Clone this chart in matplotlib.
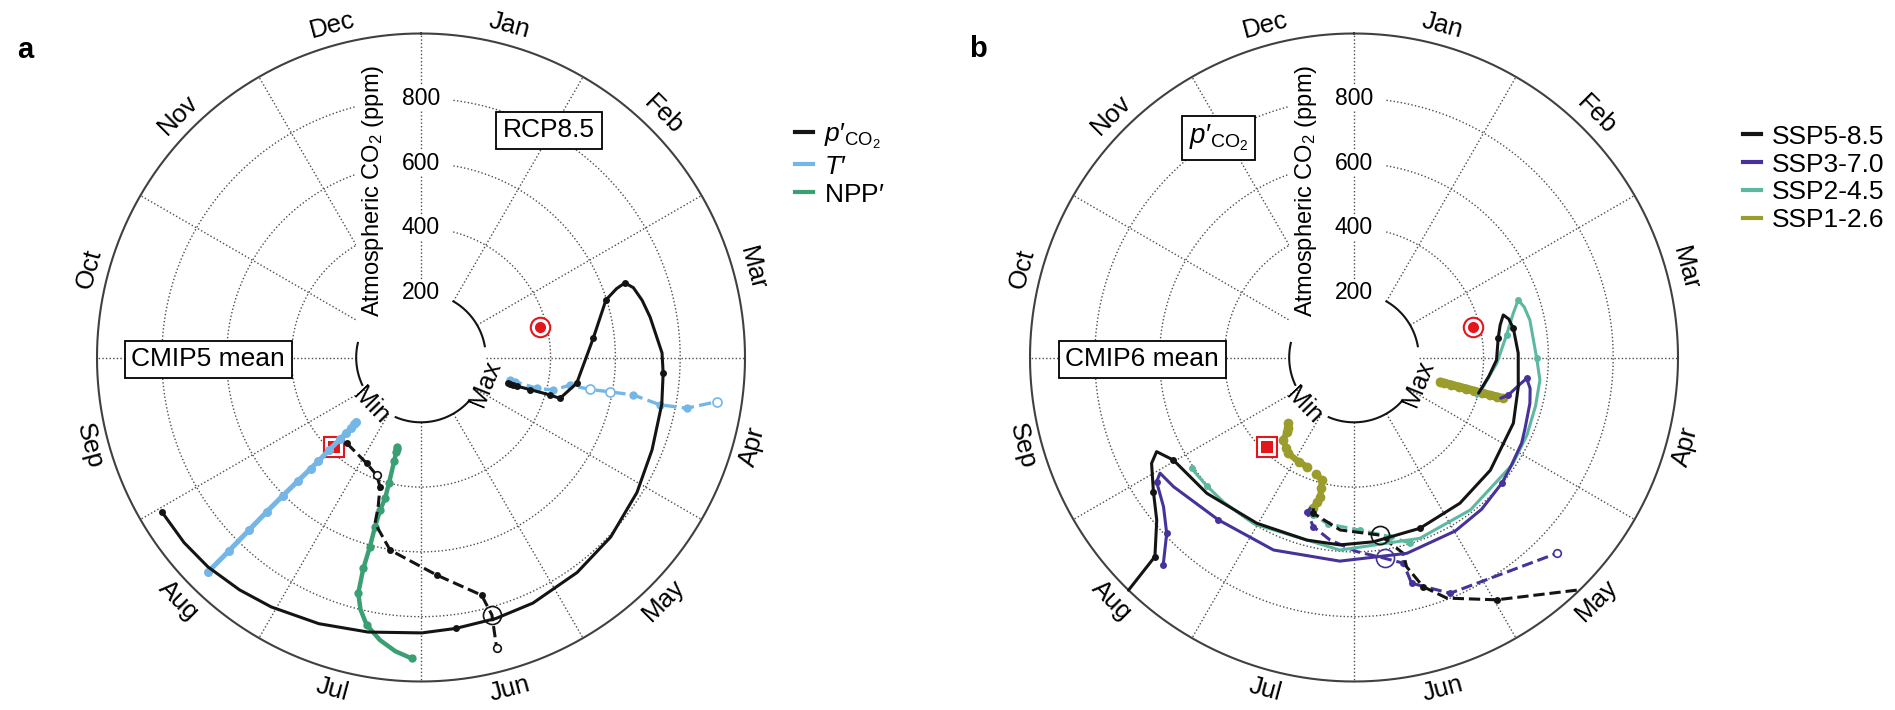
import numpy as np
import matplotlib
matplotlib.use('Agg')
import matplotlib.pyplot as plt
from matplotlib.patches import Rectangle
from matplotlib.lines import Line2D

plt.rcParams['font.family'] = ['Liberation Sans', 'DejaVu Sans']
plt.rcParams['mathtext.fontset'] = 'custom'
plt.rcParams['mathtext.rm'] = 'Liberation Sans'
plt.rcParams['mathtext.it'] = 'Liberation Sans:italic'
plt.rcParams['mathtext.bf'] = 'Liberation Sans:bold'

# phase = timing of the seasonal extreme, degrees clockwise from 1 Jan
# ppm   = atmospheric CO2 at that time
months = ['Jan', 'Feb', 'Mar', 'Apr', 'May', 'Jun',
          'Jul', 'Aug', 'Sep', 'Oct', 'Nov', 'Dec']
r_ticks = [200, 400, 600, 800]
r_inner = 200
r_outer = 1000

# observed timing of seasonal max / min
obs_max_phase, obs_max_ppm = 75.5, 380
obs_min_phase, obs_min_ppm = 224.2, 384

# ---- a: CMIP5 mean, RCP8.5
a_pco2_max_phase = [106.5, 106.5, 106.5, 106.6, 106.4, 106.2, 106.4, 99.4, 87.4, 83.6, 72.7,
                    70.6, 69.9, 71.8, 75.5, 80.0, 88.9, 93.7, 101.0, 111.8, 122.0, 133.4, 144.0,
                    155.5, 164.0, 172.7, 179.8, 190.9, 201.0, 211.0, 218.0, 225.5, 232.0, 239.2]
a_pco2_max_ppm = [281, 288, 296, 310, 351, 415, 447, 487, 519, 535, 598,
                  640, 670, 690, 705, 718, 744, 749, 757, 768, 786, 806, 820,
                  833, 838, 843, 850, 863, 880, 898, 910, 922, 928, 931]
a_pco2_max_dots = [0, 1, 2, 3, 4, 5, 6, 7, 9, 10, 12, 17, 25, 33]

a_pco2_min_phase = [220.9, 207.2, 200.7, 197.6, 196.0, 195.5, 189.1, 175.9, 165.7, 164.6, 165.4]
a_pco2_min_ppm = [350, 367, 388, 418, 480, 531, 602, 673, 757, 824, 927]
a_pco2_min_dots = [0, 1, 3, 6, 7, 8]
a_pco2_min_open = [2, 10]
a_pco2_min_ring = [9]

a_temp_min_phase = [225.2, 225.1, 225.0, 224.9, 224.8, 224.8, 224.7, 224.8, 224.9, 225.0,
                    225.0, 224.9, 224.8, 224.8]
a_temp_min_ppm = [281, 290, 307, 330, 355, 401, 450, 484, 539, 604, 673, 751, 842, 931]

a_temp_max_phase = [104.2, 104.4, 104.9, 103.8, 100.5, 100.7, 100.3, 100.0, 101.2, 100.8, 98.5]
a_temp_max_ppm = [283, 300, 370, 420, 468, 531, 593, 665, 752, 835, 923]
a_temp_max_dots = [0, 1, 2, 3, 4, 7, 8, 9]
a_temp_max_open = [5, 6, 10]

a_npp_phase = [195.0, 194.8, 194.7, 194.5, 194.3, 194.3, 195.0, 195.2, 195.1, 195.3,
               194.9, 193.5, 191.5, 188.3, 185.0, 181.8]
a_npp_ppm = [286, 292, 300, 330, 400, 449, 487, 541, 605, 675, 753, 800, 842, 881, 910, 929]
a_npp_dots = [0, 1, 2, 3, 4, 5, 6, 7, 8, 9, 10, 12, 15]

# ---- b: CMIP6 mean, p'CO2 per scenario
b_585_max_phase = [106.0, 98.0, 91.0, 82.4, 77.5, 74.1, 76.0, 79.6, 88.5, 100.1, 112.4, 129.6,
                   144.0, 158.9, 174.0, 184.3, 194.5, 210.4, 227.3, 240.4, 244.5, 242.4, 236.2,
                   230.5, 225.0, 224.1]
b_585_max_ppm = [400, 420, 440, 449, 462, 479, 492, 500, 507, 515, 532, 546,
                 556, 565, 572, 580, 582, 593, 618, 641, 675, 705, 745, 789, 869, 1000]
b_585_max_dots = [3, 7, 13, 19, 22, 24]

b_370_max_phase = [105.5, 103.7, 99.0, 96.9, 100.0, 104.6, 112.8, 117.1, 125.2, 130.4, 140.0,
                   149.7, 164.9, 184.0, 202.7, 219.9, 234.4, 239.2, 237.8, 231.9, 226.8, 222.6]
b_370_max_ppm = [470, 490, 520, 537, 552, 561, 572, 581, 590, 599, 612,
                 620, 626, 630, 644, 653, 685, 697, 720, 747, 793, 870]
b_370_max_dots = [1, 3, 9, 15, 18, 20, 21]

b_245_max_phase = [107.7, 102.7, 92.3, 81.6, 74.5, 70.7, 73.5, 78.0, 90.3, 96.9, 105.0, 114.2,
                   124.0, 142.6, 160.0, 184.2, 210.9, 222.0, 228.9, 235.7]
b_245_max_ppm = [398, 409, 441, 476, 510, 537, 548, 555, 564, 578, 580, 585,
                 590, 592, 594, 596, 599, 601, 603, 607]
b_245_max_dots = [3, 5, 8, 18, 19]

b_126_max_phase = [105.7, 105.7, 105.6, 105.6, 105.5, 105.5, 105.4, 105.4, 105.3, 105.3]
b_126_max_ppm = [276, 290, 310, 335, 360, 385, 410, 435, 458, 478]

b_126_min_phase = [225.3, 223.5, 222.0, 220.6, 217.0, 214.4, 208.0, 203.4, 198.0, 194.8, 194.0,
                   193.7, 194.5, 195.1]
b_126_min_ppm = [287, 298, 310, 335, 350, 359, 364, 367, 378, 391, 415, 442, 462, 482]

b_245_min_phase = [195.1, 194.5, 189.0, 178.0, 168.6, 163.2]
b_245_min_ppm = [482, 502, 520, 533, 564, 599]
b_245_min_dots = [1, 2, 3, 4, 5]

b_370_min_phase = [196.0, 197.0, 193.5, 187.5, 179.2, 171.3, 166.5, 165.7, 157.8, 134.0]
b_370_min_ppm = [482, 498, 537, 568, 599, 627, 653, 719, 786, 870]
b_370_min_dots = [1, 2, 6, 7, 8]
b_370_min_open = [9]
b_370_min_ring = [5]

b_585_min_phase = [195.1, 194.6, 184.6, 171.7, 165.9, 165.9, 163.2, 158.9, 149.5, 135.8]
b_585_min_ppm = [482, 497, 534, 554, 623, 666, 739, 796, 868, 1000]
b_585_min_dots = [1, 6, 8]
b_585_min_ring = [3]

black = '#141414'
blue = '#74b6e6'
green = '#3aa074'
purple = '#46329a'
teal = '#5cb8a0'
olive = '#9a9c2c'
red = '#e3161e'

W, H = 1895, 710
px_per_ppm = 0.324
L = 1150


def xy(phase, ppm):
    t = np.deg2rad(np.asarray(phase, dtype=float))
    r = np.asarray(ppm, dtype=float)
    return r * np.sin(t), r * np.cos(t)


def trace(ax, phase, ppm, color, ls='-', lw=2.0, dots=None, open_=(), ring=(), ms=5, z=5):
    x, y = xy(phase, ppm)
    ax.plot(x, y, color=color, ls=ls, lw=lw, zorder=z, solid_capstyle='round',
            solid_joinstyle='round')
    if dots is None:
        dots = range(len(x))
    dots = list(dots)
    if dots:
        ax.plot(x[dots], y[dots], 'o', color=color, ms=ms, mew=0, zorder=z)
    if open_:
        ax.plot(x[list(open_)], y[list(open_)], 'o', ms=ms + 0.5, mfc='white', mec=color,
                mew=1.2, zorder=z + 0.1)
    if ring:
        ax.plot(x[list(ring)], y[list(ring)], 'o', ms=13, mfc='none', mec=color,
                mew=1.2, zorder=z + 0.1)


def base(ax):
    ax.set_xlim(-L, L)
    ax.set_ylim(-L, L)
    ax.axis('off')
    dot = dict(ls=(0, (1, 1.6)), lw=1.0, color='0.3')
    th = np.linspace(0, 360, 721)
    for r in r_ticks[1:]:
        x, y = xy(th, np.full_like(th, r))
        ax.plot(x, y, zorder=1, **dot)
    for k in range(12):
        x, y = xy([30 * k, 30 * k], [r_inner, r_outer])
        ax.plot(x, y, zorder=1.6 if k == 0 else 1, **dot)
    # keeps the grid away from the radial axis labels
    ax.add_patch(Rectangle((-200, 45), 300, 960, fc='white', ec='none', zorder=1.5))
    x, y = xy(th, np.full_like(th, r_outer))
    ax.plot(x, y, color='0.25', lw=1.5, zorder=2)
    for a0, a1 in [(30, 80), (133, 203), (245, 283)]:
        t = np.linspace(a0, a1, 60)
        x, y = xy(t, np.full_like(t, r_inner))
        ax.plot(x, y, color=black, lw=1.5, zorder=2)
    for r in r_ticks:
        ax.text(0, r, str(r), ha='center', va='center', fontsize=16.5, zorder=3,
                bbox=dict(fc='white', ec='none', pad=1.0))
    ax.text(-148, 514, 'Atmospheric CO$_2$ (ppm)', rotation=90, ha='center',
            va='center', fontsize=17, zorder=3)
    for k, m in enumerate(months):
        ph = 30 * k + 15
        x, y = xy(ph, 1060)
        rot = 180 - ph if 90 < ph < 270 else -ph
        ax.text(x, y, m, ha='center', va='center', rotation=rot, fontsize=18.5,
                rotation_mode='anchor')
    for ph, lab in [(112, 'Max'), (226, 'Min')]:
        x, y = xy(ph, 215)
        ax.text(x, y, lab, ha='center', va='center', rotation=180 - ph, fontsize=18,
                rotation_mode='anchor', zorder=3)


def obs_marks(ax):
    x, y = xy(obs_max_phase, obs_max_ppm)
    ax.plot(x, y, 'o', ms=14, mfc='white', mec=red, mew=1.5, zorder=3)
    ax.plot(x, y, 'o', ms=8, color=red, mew=0, zorder=3)
    x, y = xy(obs_min_phase, obs_min_ppm)
    ax.plot(x, y, 's', ms=14, mfc='white', mec=red, mew=1.5, zorder=3)
    ax.plot(x, y, 's', ms=8, color=red, mew=0, zorder=3)


def panel_axes(cx, cy):
    half = L * px_per_ppm
    return fig.add_axes([(cx - half) / W, (H - cy - half) / H, 2 * half / W, 2 * half / H])


pco2_label = r"$p\prime_{\mathrm{CO_2}}$"

fig = plt.figure(figsize=(W / 100, H / 100), dpi=100)
box = dict(boxstyle='square,pad=0.25', fc='white', ec='black', lw=1.3)

# ---------- panel a
ax = panel_axes(421, 357.5)
base(ax)
obs_marks(ax)
trace(ax, a_npp_phase, a_npp_ppm, green, lw=3.2, dots=a_npp_dots, ms=6)
trace(ax, a_temp_min_phase, a_temp_min_ppm, blue, lw=3.6, ms=6.5)
trace(ax, a_temp_max_phase, a_temp_max_ppm, blue, ls='--', lw=2.4, dots=a_temp_max_dots,
      open_=a_temp_max_open, ms=6)
trace(ax, a_pco2_min_phase, a_pco2_min_ppm, black, ls='--', lw=2.2, dots=a_pco2_min_dots,
      open_=a_pco2_min_open, ring=a_pco2_min_ring, ms=5)
trace(ax, a_pco2_max_phase, a_pco2_max_ppm, black, lw=2.2, dots=a_pco2_max_dots, ms=5)
ax.text(395, 701, 'RCP8.5', ha='center', va='center', fontsize=19, bbox=box, zorder=6)
ax.text(-657, -5, 'CMIP5 mean', ha='center', va='center', fontsize=19, bbox=box, zorder=6)

# ---------- panel b
ax = panel_axes(1354, 357.5)
base(ax)
obs_marks(ax)
trace(ax, b_126_min_phase, b_126_min_ppm, olive, ls='--', lw=4.5, ms=7)
trace(ax, b_245_min_phase, b_245_min_ppm, teal, ls='--', lw=2.2, dots=b_245_min_dots, ms=5)
trace(ax, b_370_min_phase, b_370_min_ppm, purple, ls='--', lw=2.2, dots=b_370_min_dots,
      open_=b_370_min_open, ring=b_370_min_ring, ms=5)
trace(ax, b_585_min_phase, b_585_min_ppm, black, ls='--', lw=2.2, dots=b_585_min_dots,
      ring=b_585_min_ring, ms=5)
trace(ax, b_126_max_phase, b_126_max_ppm, olive, lw=6, ms=7)
trace(ax, b_245_max_phase, b_245_max_ppm, teal, lw=2.2, dots=b_245_max_dots, ms=5)
trace(ax, b_370_max_phase, b_370_max_ppm, purple, lw=2.2, dots=b_370_max_dots, ms=5)
trace(ax, b_585_max_phase, b_585_max_ppm, black, lw=2.2, dots=b_585_max_dots, ms=5)
ax.text(-418, 678, pco2_label, ha='center', va='center', fontsize=20, bbox=box, zorder=6)
ax.text(-654, -5, 'CMIP6 mean', ha='center', va='center', fontsize=19, bbox=box, zorder=6)

# ---------- legends and panel letters
leg_kw = dict(loc='center left', frameon=False, fontsize=19, handlelength=0.7,
              handletextpad=0.4, labelspacing=0.15, borderpad=0, borderaxespad=0)
fig.legend([Line2D([], [], color=c, lw=3) for c in (black, blue, green)],
           [pco2_label, r"$T\prime$", r"$\mathrm{NPP}\prime$"],
           bbox_to_anchor=(795 / W, (H - 164) / H), **leg_kw)
fig.legend([Line2D([], [], color=c, lw=3) for c in (black, purple, teal, olive)],
           ['SSP5-8.5', 'SSP3-7.0', 'SSP2-4.5', 'SSP1-2.6'],
           bbox_to_anchor=(1743 / W, (H - 178.5) / H), **leg_kw)
fig.text(25.5 / W, (H - 50.5) / H, 'a', fontweight='bold', fontsize=21, ha='center', va='center')
fig.text(977.5 / W, (H - 49) / H, 'b', fontweight='bold', fontsize=21, ha='center', va='center')

fig.savefig('out.png', dpi=100)
